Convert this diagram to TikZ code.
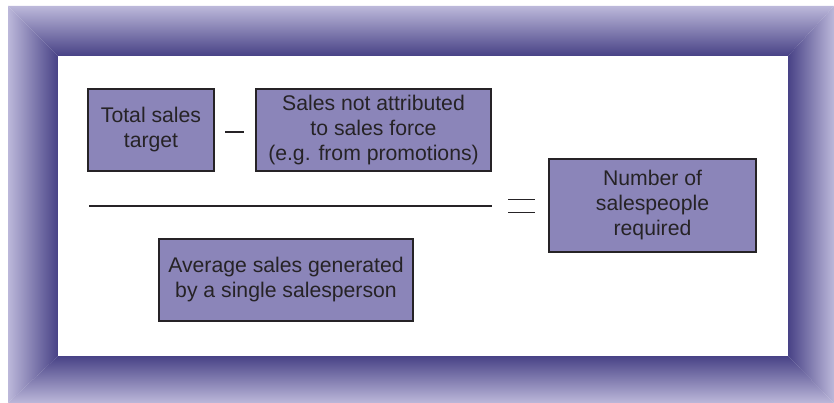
\documentclass[tikz,border=0pt]{standalone}
\usepackage{fontspec}
\setmainfont{Liberation Sans}
\definecolor{framelight}{RGB}{188,184,218}
\definecolor{framedark}{RGB}{72,66,134}
\definecolor{boxfill}{RGB}{139,133,185}
\definecolor{inktext}{RGB}{38,35,38}
\tikzset{
  salesbox/.style={draw=inktext, line width=1.2pt, fill=boxfill, text=inktext,
    align=center, inner sep=0pt, font=\fontsize{21.2}{25}\selectfont},
  opline/.style={draw=inktext, line width=1.5pt}
}
\begin{document}
\begin{tikzpicture}[x=1pt, y=-1pt]
  \useasboundingbox (0,0) rectangle (834,403);
  % bevelled frame
  \shade[top color=framelight, bottom color=framedark]
    (8,6) -- (834,6) -- (788,56) -- (58,56) -- cycle;
  \shade[left color=framelight, right color=framedark]
    (8,6) -- (58,56) -- (58,356) -- (8,403) -- cycle;
  \shade[left color=framedark, right color=framelight]
    (834,6) -- (834,403) -- (788,356) -- (788,56) -- cycle;
  \shade[top color=framedark, bottom color=framelight]
    (8,403) -- (834,403) -- (788,356) -- (58,356) -- cycle;
  \fill[white] (58,56) rectangle (788,356);

  \path node (total)  at (151,130)   [salesbox, minimum width=126pt, minimum height=82pt]
          {Total sales\\target}
        node (notsf)  at (373.5,130) [salesbox, minimum width=235pt, minimum height=82pt]
          {Sales not attributed\\to sales force\\(e.g. from promotions)}
        node (number) at (652.5,205.5) [salesbox, minimum width=207pt, minimum height=93pt]
          {Number of\\salespeople\\required}
        node (avg)    at (286,280)   [salesbox, minimum width=254pt, minimum height=82pt]
          {Average sales generated\\by a single salesperson};

  \coordinate (minusL) at (225,132);
  \coordinate (minusR) at (244,132);
  \coordinate (barL)   at (89,206);
  \coordinate (barR)   at (492,206);
  \coordinate (eqAL)   at (508,199.5);
  \coordinate (eqAR)   at (535,199.5);
  \coordinate (eqBL)   at (508,212.5);
  \coordinate (eqBR)   at (535,212.5);
  \draw[opline] (minusL) -- (minusR)
                (barL) -- (barR);
  \draw[opline, line width=1.2pt] (eqAL) -- (eqAR)
                                  (eqBL) -- (eqBR);
\end{tikzpicture}
\end{document}
